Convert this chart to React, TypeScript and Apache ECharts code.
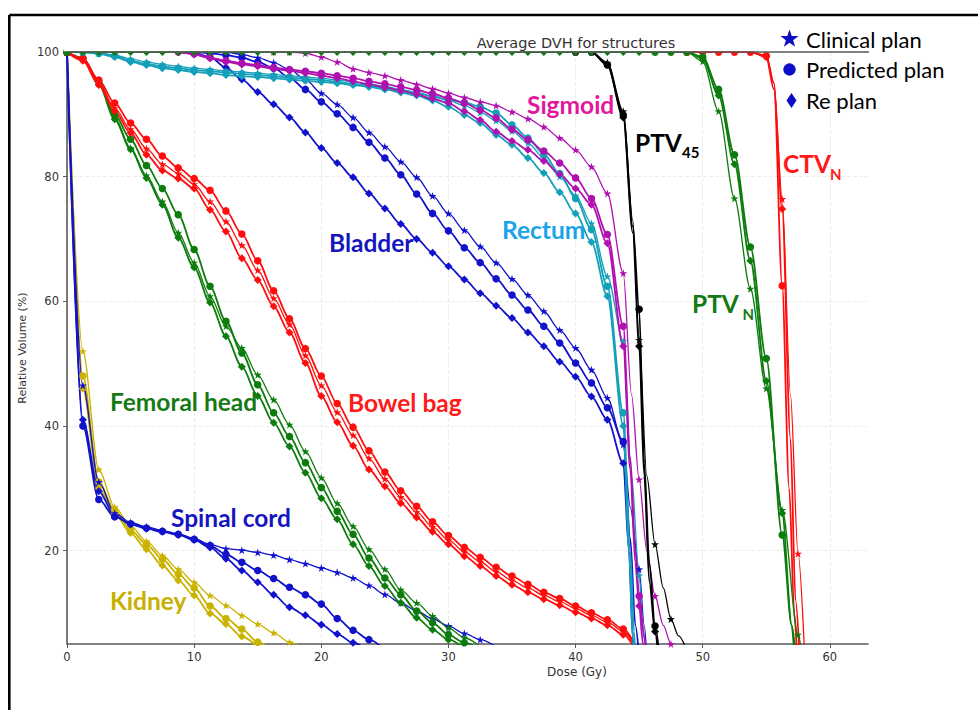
import React, { useEffect, useRef } from "react";
import * as echarts from "echarts";

// ---------- data (dose in Gy, relative volume in %) ----------
const X_TICKS = [0, 10, 20, 30, 40, 50, 60];
const Y_TICKS = [20, 40, 60, 80, 100];
const DOSE_STEP = 1.25; // markers are drawn at this dose spacing

const KIDNEY_CLINICAL = [[0,100],[1.25,52],[2.5,33],[3.75,27],[5,24],[6.25,21.5],[7.5,19.2],[8.75,17],[10,14.9],[11.25,12.8],[12.5,11.2],[13.75,9.6],[15,8.2],[16.25,6.8],[17.5,5.3],[18.75,4]];
const KIDNEY_PREDICTED = [[0,100],[1.25,48],[2.5,31],[3.75,26.5],[5,23.3],[6.25,21],[7.5,18.6],[8.75,16.2],[10,14],[11.25,11.1],[12.5,9.1],[13.75,7.4],[15,5.3],[16.25,3.6]];
const KIDNEY_RE = [[0,100],[1.25,46],[2.5,30],[3.75,26],[5,22.8],[6.25,20.2],[7.5,17.6],[8.75,15.2],[10,12.8],[11.25,9.9],[12.5,8.2],[13.75,6.2],[15,4.5]];

const SPINAL_CLINICAL = [[0,100],[1.25,46.5],[2.5,31],[3.75,26],[5,24.5],[6.25,23.8],[7.5,23.2],[8.75,22.7],[10,21.9],[11.25,21],[12.5,20.3],[13.75,20.05],[15,19.7],[16.25,19.25],[17.5,18.55],[18.75,17.9],[20,17.2],[21.25,16.5],[22.5,15.6],[23.75,14.4],[25,12.95],[26.25,11.6],[27.5,10.3],[28.75,9.05],[30,7.9],[31.25,6.7],[32.5,5.7],[33.75,4.6]];
const SPINAL_PREDICTED = [[0,100],[1.25,40],[2.5,28.2],[3.75,25.4],[5,24.3],[6.25,23.6],[7.5,23.1],[8.75,22.6],[10,21.8],[11.25,20.8],[12.5,19.4],[13.75,18.1],[15,16.8],[16.25,15.5],[17.5,14.1],[18.75,12.9],[20,11.4],[21.25,9.1],[22.5,7.2],[23.75,5.7],[25,4]];
const SPINAL_RE = [[0,100],[1.25,41],[2.5,29.5],[3.75,25.6],[5,24.2],[6.25,23.5],[7.5,23],[8.75,22.5],[10,21.7],[11.25,20.5],[12.5,18.7],[13.75,16.8],[15,14.9],[16.25,12.9],[17.5,10.9],[18.75,9.6],[20,8.1],[21.25,6.6],[22.5,5.2],[23.75,3.8]];

const FEMORAL_CLINICAL = [[0,100],[1.25,99],[2.5,95],[3.75,89.5],[5,84.6],[6.25,80.2],[7.5,76],[8.75,71],[10,66.2],[11.25,60.8],[12.5,56],[13.75,52.5],[15,48.2],[16.25,44.2],[17.5,40.2],[18.75,35.9],[20,31.7],[21.25,27.6],[22.5,23.9],[23.75,20.2],[25,17],[26.25,13.7],[27.5,11.6],[28.75,9.5],[30,7.6],[31.25,6],[32.5,4.6]];
const FEMORAL_PREDICTED = [[0,100],[1.25,99],[2.5,95.3],[3.75,90],[5,86],[6.25,81.8],[7.5,78.1],[8.75,73.9],[10,68.3],[11.25,62.4],[12.5,56.8],[13.75,51.7],[15,46.6],[16.25,42.1],[17.5,38.3],[18.75,34.1],[20,30.1],[21.25,26.3],[22.5,22.6],[23.75,18.8],[25,15.6],[26.25,12.9],[27.5,10.3],[28.75,8.4],[30,6.5],[31.25,5.2],[32.5,4]];
const FEMORAL_RE = [[0,100],[1.25,99],[2.5,94.8],[3.75,89.2],[5,84.4],[6.25,79.8],[7.5,75.5],[8.75,70.2],[10,65.4],[11.25,59.8],[12.5,54.4],[13.75,49.5],[15,44.8],[16.25,40.5],[17.5,36.7],[18.75,32.5],[20,28.4],[21.25,25],[22.5,21],[23.75,17.5],[25,14.3],[26.25,11.6],[27.5,9.2],[28.75,7.3],[30,5.7],[31.25,4.3]];

const BOWEL_CLINICAL = [[0,100],[1.25,98.8],[2.5,95],[3.75,91],[5,87.6],[6.25,84.5],[7.5,82],[8.75,80.5],[10,78.8],[11.25,76],[12.5,72.8],[13.75,69],[15,65],[16.25,60.5],[17.5,56.3],[18.75,51.3],[20,46.5],[21.25,42.2],[22.5,38.5],[23.75,34.8],[25,31.5],[26.25,28.6],[27.5,26.2],[28.75,23.8],[30,21.7],[31.25,19.8],[32.5,18.2],[33.75,16.6],[35,15.2],[36.25,14],[37.5,12.8],[38.75,11.8],[40,10.7],[41.25,9.6],[42.5,8.5],[43.75,7],[45,3.5]];
const BOWEL_PREDICTED = [[0,100],[1.25,99],[2.5,95.5],[3.75,91.8],[5,88.6],[6.25,86],[7.5,83.3],[8.75,81.4],[10,79.7],[11.25,77.8],[12.5,74.5],[13.75,70.8],[15,66.5],[16.25,61.7],[17.5,57.2],[18.75,52.4],[20,48],[21.25,43.6],[22.5,39.8],[23.75,36],[25,32.6],[26.25,29.6],[27.5,27.1],[28.75,24.6],[30,22.4],[31.25,20.5],[32.5,18.9],[33.75,17.3],[35,15.9],[36.25,14.6],[37.5,13.3],[38.75,12.3],[40,11.1],[41.25,10],[42.5,8.9],[43.75,7.4],[45,3.5]];
const BOWEL_RE = [[0,100],[1.25,98.6],[2.5,94.7],[3.75,90.5],[5,87],[6.25,83.5],[7.5,81],[8.75,79.7],[10,78.1],[11.25,74.7],[12.5,71.2],[13.75,66.9],[15,63.4],[16.25,59.2],[17.5,55],[18.75,50.1],[20,44.8],[21.25,40.6],[22.5,36.8],[23.75,33],[25,30.3],[26.25,27.6],[27.5,25.3],[28.75,23],[30,21],[31.25,19.1],[32.5,17.5],[33.75,15.9],[35,14.5],[36.25,13.3],[37.5,12.2],[38.75,11.2],[40,10.1],[41.25,9.1],[42.5,8],[43.75,6.5],[45,3]];

const BLADDER_CLINICAL = [[0,100],[11.25,100],[12.5,100],[13.75,99.6],[15,99.1],[16.25,98.3],[17.5,97.2],[18.75,95.6],[20,93.4],[21.25,91.6],[22.5,89.5],[23.75,87.1],[25,84.8],[26.25,82.4],[27.5,79.9],[28.75,76.9],[30,74.1],[31.25,71.4],[32.5,68.8],[33.75,66.2],[35,63.6],[36.25,61],[37.5,58.4],[38.75,55.4],[40,52.5],[41.25,49],[42.5,44.5],[43.75,37],[44.3,27],[45,17],[45.4,8],[45.6,3]];
const BLADDER_PREDICTED = [[0,100],[10,100],[11.25,99.8],[12.5,99.5],[13.75,99.1],[15,98.4],[16.25,97.4],[17.5,95.9],[18.75,94],[20,92],[21.25,90.1],[22.5,87.9],[23.75,85.5],[25,83],[26.25,80.3],[27.5,77.2],[28.75,74.1],[30,71.3],[31.25,68.6],[32.5,66.2],[33.75,63.6],[35,61],[36.25,58.6],[37.5,56],[38.75,53.3],[40,50.1],[41.25,46.9],[42.5,42.9],[43.75,37.5],[44.3,22],[44.7,8],[45,3]];
const BLADDER_RE = [[0,100],[8.75,100],[10,99.8],[11.25,99.2],[12.5,97.5],[13.75,95.6],[15,93.6],[16.25,91.6],[17.5,89.5],[18.75,87.1],[20,84.6],[21.25,82.2],[22.5,79.9],[23.75,77.3],[25,74.9],[26.25,72.4],[27.5,70],[28.75,67.8],[30,65.6],[31.25,63.5],[32.5,61.3],[33.75,59.3],[35,57.3],[36.25,55],[37.5,52.8],[38.75,50.3],[40,47.9],[41.25,44.7],[42.5,41],[43.75,34],[44.2,20],[44.5,6],[44.6,3]];

const RECTUM_CLINICAL = [[0,100],[1.25,100],[2.5,99.8],[3.75,99.5],[5,98.9],[6.25,98.4],[7.5,98],[8.75,97.7],[10,97.4],[11.25,97.2],[12.5,97],[13.75,96.8],[15,96.6],[16.25,96.4],[17.5,96.2],[18.75,96],[20,95.8],[21.25,95.5],[22.5,95.2],[23.75,94.9],[25,94.5],[26.25,94],[27.5,93.5],[28.75,92.9],[30,92.2],[31.25,91.4],[32.5,90.3],[33.75,89],[35,87.3],[36.25,85.4],[37.5,83],[38.75,80],[40,77],[41.25,72.5],[42.5,64],[43.75,53.6],[44.4,32],[45,16],[45.3,8],[45.5,3]];
const RECTUM_PREDICTED = [[0,100],[1.25,100],[2.5,99.8],[3.75,99.4],[5,98.6],[6.25,98.1],[7.5,97.7],[8.75,97.4],[10,97.1],[11.25,96.9],[12.5,96.7],[13.75,96.5],[15,96.3],[16.25,96.1],[17.5,95.9],[18.75,95.7],[20,95.5],[21.25,95.2],[22.5,94.9],[23.75,94.6],[25,94.2],[26.25,93.8],[27.5,93.4],[28.75,92.9],[30,92.3],[31.25,91.9],[32.5,91.2],[33.75,90.2],[35,88.3],[36.25,86.2],[37.5,83.6],[38.75,80.5],[40,76.5],[41.25,71.5],[42.5,62.4],[43.75,42.1],[44.3,20],[44.6,7],[44.7,3]];
const RECTUM_RE = [[0,100],[1.25,100],[2.5,99.7],[3.75,99.2],[5,98.4],[6.25,97.9],[7.5,97.4],[8.75,97.1],[10,96.8],[11.25,96.6],[12.5,96.3],[13.75,96.1],[15,96],[16.25,95.8],[17.5,95.6],[18.75,95.4],[20,95.2],[21.25,95],[22.5,94.7],[23.75,94.4],[25,94],[26.25,93.5],[27.5,93],[28.75,92.2],[30,91.2],[31.25,89.9],[32.5,88.6],[33.75,86.7],[35,85.1],[36.25,83],[37.5,80.6],[38.75,77.5],[40,74.1],[41.25,69.5],[42.5,60.8],[43.75,40],[44.2,20],[44.5,6],[44.6,3]];

const SIGMOID_CLINICAL = [[0,100],[16.25,100],[17.5,100],[18.75,99.8],[20,99.2],[21.25,98.4],[22.5,97.3],[23.75,96.7],[25,96.2],[26.25,95.5],[27.5,94.8],[28.75,94.1],[30,93.4],[31.25,92.7],[32.5,92],[33.75,91.4],[35,90.4],[36.25,89.3],[37.5,88],[38.75,86.2],[40,84.3],[41.25,81.6],[42.5,77.3],[43.75,64.5],[44.4,45],[45,31.4],[45.6,20],[46.25,12.7],[46.9,8],[47.5,5],[47.8,3.5]];
const SIGMOID_PREDICTED = [[0,100],[8.75,100],[10,99.7],[11.25,99.1],[12.5,98.6],[13.75,98.2],[15,97.9],[16.25,97.5],[17.5,97.2],[18.75,96.9],[20,96.6],[21.25,96.2],[22.5,95.8],[23.75,95.3],[25,94.9],[26.25,94.4],[27.5,93.9],[28.75,93.3],[30,92.6],[31.25,91.8],[32.5,90.7],[33.75,89.4],[35,87.6],[36.25,85.9],[37.5,84.1],[38.75,82.2],[40,79.8],[41.25,76.5],[42.5,70.7],[43.75,56],[44.3,35],[44.7,20],[45,12.7],[45.4,6],[45.6,3]];
const SIGMOID_RE = [[0,100],[8.75,100],[10,99.6],[11.25,99],[12.5,98.4],[13.75,98],[15,97.7],[16.25,97.3],[17.5,97],[18.75,96.6],[20,96.2],[21.25,95.8],[22.5,95.3],[23.75,94.8],[25,94.3],[26.25,93.8],[27.5,93.2],[28.75,92.5],[30,91.8],[31.25,90.5],[32.5,89.1],[33.75,87.2],[35,85.7],[36.25,84.3],[37.5,82.5],[38.75,80.4],[40,78.1],[41.25,75.5],[42.5,69.3],[43.75,52.8],[44.3,33],[44.7,18],[45,11.1],[45.3,5],[45.5,3]];

const PTV45_CLINICAL = [[0,100],[40,100],[41.25,100],[42.5,98.3],[43.75,90.5],[44.5,73],[45,53.8],[45.6,32],[46.25,21],[46.9,14],[47.5,9],[48.1,6.3],[48.75,4]];
const PTV45_PREDICTED = [[0,100],[40,100],[41.25,100],[42.5,97.9],[43.75,89.9],[44.5,72],[45,58.7],[45.4,34],[45.8,18],[46.25,7.9],[46.6,3]];
const PTV45_RE = [[0,100],[40,100],[41.25,100],[42.5,98],[43.75,89.5],[44.5,71],[45,52.8],[45.4,32],[45.8,15],[46.25,7],[46.5,3]];

const CTVN_CLINICAL = [[0,100],[48.75,100],[50,100],[51.25,100],[52.5,100],[53.75,100],[55,99.3],[55.6,95],[56.25,76.4],[56.9,45],[57.5,19.5],[58,4]];
const CTVN_PREDICTED = [[0,100],[48.75,100],[50,100],[51.25,100],[52.5,100],[53.75,100],[55,99.4],[55.6,95],[56.25,62.5],[56.8,30],[57.2,10],[57.4,4]];
const CTVN_RE = [[0,100],[48.75,100],[50,100],[51.25,100],[52.5,100],[53.75,100],[55,99.2],[55.6,94],[56.25,74.8],[56.9,38],[57.3,12],[57.6,4]];

const PTVN_CLINICAL = [[0,100],[46.25,100],[47.5,100],[48.75,100],[50,98.5],[51.25,90.5],[52.5,76.5],[53.75,62],[55,46],[56.25,26.5],[57.5,6.5],[57.8,3.5]];
const PTVN_PREDICTED = [[0,100],[46.25,100],[47.5,100],[48.75,100],[50,99.2],[51.25,94],[52.5,83.5],[53.75,68.7],[55,50.8],[56.25,22.5],[57,8],[57.3,3.5]];
const PTVN_RE = [[0,100],[1.25,100],[2.5,100],[3.75,100],[5,100],[6.25,100],[7.5,100],[8.75,100],[10,100],[11.25,100],[12.5,100],[13.75,100],[15,100],[16.25,100],[17.5,100],[18.75,100],[20,100],[21.25,100],[22.5,100],[23.75,100],[25,100],[26.25,100],[27.5,100],[28.75,100],[30,100],[31.25,100],[32.5,100],[33.75,100],[35,100],[36.25,100],[37.5,100],[38.75,100],[40,100],[41.25,100],[42.5,100],[43.75,100],[45,100],[46.25,100],[47.5,100],[48.75,100],[50,99],[51.25,93],[52.5,82],[53.75,66.5],[55,47.2],[56.25,26],[57,8],[57.2,3.5]];

const PLANS = ["Clinical plan", "Predicted plan", "Re plan"];

const STRUCTURES = [
  { name: "Kidney", color: "#c9b300", curves: [KIDNEY_CLINICAL, KIDNEY_PREDICTED, KIDNEY_RE] },
  { name: "Spinal cord", color: "#1212cc", curves: [SPINAL_CLINICAL, SPINAL_PREDICTED, SPINAL_RE] },
  { name: "Femoral head", color: "#0c7c0c", curves: [FEMORAL_CLINICAL, FEMORAL_PREDICTED, FEMORAL_RE] },
  { name: "Bowel bag", color: "#ff0d0d", curves: [BOWEL_CLINICAL, BOWEL_PREDICTED, BOWEL_RE] },
  { name: "Bladder", color: "#1212cc", curves: [BLADDER_CLINICAL, BLADDER_PREDICTED, BLADDER_RE] },
  { name: "Rectum", color: "#14a0b8", curves: [RECTUM_CLINICAL, RECTUM_PREDICTED, RECTUM_RE] },
  { name: "Sigmoid", color: "#b010b0", curves: [SIGMOID_CLINICAL, SIGMOID_PREDICTED, SIGMOID_RE] },
  { name: "PTV45", color: "#000000", curves: [PTV45_CLINICAL, PTV45_PREDICTED, PTV45_RE] },
  { name: "CTVN", color: "#ff0d0d", curves: [CTVN_CLINICAL, CTVN_PREDICTED, CTVN_RE] },
  { name: "PTVN", color: "#0c7c0c", curves: [PTVN_CLINICAL, PTVN_PREDICTED, PTVN_RE] },
];

// ---------- styling ----------
const STAR_PATH =
  "path://M50,2 L61.2,36.4 97.6,36.4 68.2,57.8 79.4,92.2 50,71 20.6,92.2 31.8,57.8 2.4,36.4 38.8,36.4 Z";
const PLAN_STYLE = [
  { symbol: STAR_PATH, size: 8, width: 1.3 },
  { symbol: "circle", size: 7.5, width: 1.8 },
  { symbol: "diamond", size: 8, width: 1.8 },
];
const LEGEND_BLUE = "#0d0dc8";
const AXIS_FONT = "DejaVu Sans";
const LABEL_FONT = "Lato";
const LABEL_SIZE = 24.5;
const SUB_SIZE = 15;

const onMarkerGrid = (d: number) => Math.abs(d / DOSE_STEP - Math.round(d / DOSE_STEP)) < 1e-6;

function starPoints(cx: number, cy: number, R: number, r: number) {
  const pts: number[][] = [];
  for (let i = 0; i < 10; i++) {
    const a = -Math.PI / 2 + (i * Math.PI) / 5;
    const rad = i % 2 === 0 ? R : r;
    pts.push([cx + rad * Math.cos(a), cy + rad * Math.sin(a)]);
  }
  return pts;
}

function label(text: string, x: number, y: number, color: string, size = LABEL_SIZE) {
  return {
    type: "text",
    x,
    y,
    z: 20,
    silent: true,
    style: {
      text,
      fill: color,
      font: `bold ${size}px ${LABEL_FONT}`,
      textAlign: "left",
      textVerticalAlign: "middle",
    },
  };
}

export default function App() {
  const ref = useRef<HTMLDivElement>(null);

  useEffect(() => {
    if (!ref.current) return;
    const chart = echarts.init(ref.current, undefined, { renderer: "svg" });

    const series: any[] = [];
    STRUCTURES.forEach((s) => {
      s.curves.forEach((curve, i) => {
        const ps = PLAN_STYLE[i];
        series.push({
          type: "line",
          name: `${s.name} - ${PLANS[i]}`,
          data: curve,
          smooth: 0.3,
          smoothMonotone: "x",
          symbol: ps.symbol,
          symbolSize: (v: number[]) => (onMarkerGrid(v[0]) ? ps.size : 0),
          showSymbol: true,
          clip: true,
          silent: true,
          lineStyle: { color: s.color, width: ps.width },
          itemStyle: { color: s.color, borderWidth: 0 },
          emphasis: { disabled: true },
        });
      });
    });

    const axisLineStyle = { color: "#5a5a5a", width: 1.6 };

    const option: any = {
      animation: false,
      backgroundColor: "#ffffff",
      grid: { left: 67, top: 52, width: 801, height: 592, containLabel: false },
      xAxis: {
        type: "value",
        min: 0,
        max: 63,
        axisLine: { show: true, lineStyle: axisLineStyle },
        axisTick: { show: true, length: 4, lineStyle: { color: "#5a5a5a" }, customValues: X_TICKS },
        axisLabel: { fontFamily: AXIS_FONT, fontSize: 11.5, color: "#333", margin: 7, customValues: X_TICKS },
        splitLine: { show: true, lineStyle: { color: "#ebebeb", type: "dashed", width: 1 } },
      },
      yAxis: {
        type: "value",
        min: 5,
        max: 100,
        axisLine: { show: true, lineStyle: axisLineStyle },
        axisTick: { show: true, length: 4, lineStyle: { color: "#5a5a5a" }, customValues: Y_TICKS },
        axisLabel: { fontFamily: AXIS_FONT, fontSize: 11.5, color: "#333", margin: 8, customValues: Y_TICKS },
        splitLine: { show: true, lineStyle: { color: "#ebebeb", type: "dashed", width: 1 } },
      },
      series,
      graphic: {
        elements: [
          // outer frame (top and left edges)
          { type: "line", z: 30, silent: true, shape: { x1: 9.3, y1: 15, x2: 978, y2: 15 }, style: { stroke: "#000", lineWidth: 2.6 } },
          { type: "line", z: 30, silent: true, shape: { x1: 9.3, y1: 15, x2: 9.3, y2: 710 }, style: { stroke: "#000", lineWidth: 2.6 } },
          // mask above the plot so markers at 100 % are cut like the reference
          { type: "rect", z: 10, silent: true, shape: { x: 63.5, y: 36, width: 816, height: 15.2 }, style: { fill: "#ffffff" } },
          // top spine
          { type: "line", z: 11, silent: true, shape: { x1: 67, y1: 52, x2: 869, y2: 52 }, style: { stroke: "#5a5a5a", lineWidth: 1.6 } },
          // title
          {
            type: "text", z: 12, silent: true, x: 576, y: 42.5,
            style: { text: "Average DVH for structures", fill: "#333", font: `14.5px ${AXIS_FONT}`, textAlign: "center", textVerticalAlign: "middle" },
          },
          // axis names
          {
            type: "text", z: 12, silent: true, x: 577, y: 672,
            style: { text: "Dose (Gy)", fill: "#333", font: `12px ${AXIS_FONT}`, textAlign: "center", textVerticalAlign: "middle" },
          },
          {
            type: "text", z: 12, silent: true, x: 22, y: 348, rotation: Math.PI / 2,
            style: { text: "Relative Volume (%)", fill: "#333", font: `11px ${AXIS_FONT}`, textAlign: "center", textVerticalAlign: "middle" },
          },
          // legend
          { type: "polygon", z: 20, silent: true, shape: { points: starPoints(789.5, 39, 9.5, 3.8) }, style: { fill: LEGEND_BLUE } },
          { type: "circle", z: 20, silent: true, shape: { cx: 789.5, cy: 69.5, r: 6.2 }, style: { fill: LEGEND_BLUE } },
          { type: "polygon", z: 20, silent: true, shape: { points: [[791.5, 93], [796.5, 100.5], [791.5, 108], [786.5, 100.5]] }, style: { fill: LEGEND_BLUE } },
          { type: "text", z: 20, silent: true, x: 806, y: 39, style: { text: "Clinical plan", fill: "#000", font: `22px ${LABEL_FONT}`, textAlign: "left", textVerticalAlign: "middle" } },
          { type: "text", z: 20, silent: true, x: 806, y: 69.5, style: { text: "Predicted plan", fill: "#000", font: `22px ${LABEL_FONT}`, textAlign: "left", textVerticalAlign: "middle" } },
          { type: "text", z: 20, silent: true, x: 806, y: 100, style: { text: "Re plan", fill: "#000", font: `22px ${LABEL_FONT}`, textAlign: "left", textVerticalAlign: "middle" } },
          // structure labels
          label("Sigmoid", 527, 104, "#e3169c"),
          label("PTV", 635, 142, "#000000"),
          label("45", 682, 152, "#000000", SUB_SIZE),
          label("CTV", 783, 163, "#ff1a1a"),
          label("N", 830, 174, "#ff1a1a", SUB_SIZE),
          label("Bladder", 329, 242, "#1515c0"),
          label("Rectum", 502, 229, "#1aa3e6"),
          label("PTV", 692, 303, "#157a15"),
          label("N", 742.5, 314, "#157a15", SUB_SIZE),
          label("Femoral head", 110, 401, "#157a15"),
          label("Bowel bag", 348, 402, "#ff1a1a"),
          label("Spinal cord", 171, 517, "#1515c0"),
          label("Kidney", 110, 600, "#c8b000"),
        ],
      },
    };

    chart.setOption(option);
    return () => chart.dispose();
  }, []);

  return (
    <div
      ref={ref}
      style={{ position: "fixed", left: 0, top: 0, width: 978, height: 710, background: "#fff" }}
    />
  );
}
